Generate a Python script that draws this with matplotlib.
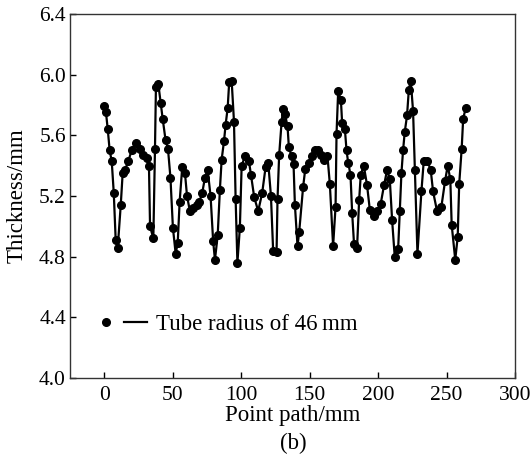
import matplotlib
matplotlib.use("Agg")
import matplotlib.pyplot as plt
from matplotlib.lines import Line2D
from matplotlib.legend_handler import HandlerTuple

plt.rcParams['font.family'] = ['Liberation Serif', 'DejaVu Serif']

# Point path (mm) and measured wall thickness (mm)
path_mm = [0.0, 1.2, 2.5, 3.9, 5.4, 6.9, 8.3, 9.8, 12.0, 13.4,
           15.1, 17.5, 20.0, 22.9, 26.1, 28.5, 30.9, 32.6, 33.4, 35.8,
           37.0, 37.7, 39.4, 41.2, 42.6, 44.7, 46.5, 48.3, 50.1, 52.1,
           53.6, 55.0, 56.9, 58.9, 60.4, 62.5, 65.0, 67.4, 69.3, 71.5,
           73.5, 75.5, 77.6, 79.5, 80.8, 82.8, 84.4, 85.7, 87.4, 88.6,
           90.1, 91.2, 93.0, 94.7, 95.9, 97.2, 99.0, 100.3, 102.7, 105.6,
           107.1, 109.5, 112.4, 115.3, 117.8, 119.7, 121.7, 123.3, 125.8, 126.5,
           127.7, 129.5, 130.6, 131.9, 133.8, 134.8, 136.8, 138.2, 139.2, 141.1,
           142.3, 145.2, 146.8, 149.4, 151.4, 153.8, 156.2, 158.1, 160.5, 163.0,
           164.7, 167.1, 168.9, 169.6, 170.8, 172.8, 173.7, 175.7, 176.9, 178.1,
           179.8, 181.0, 182.4, 184.6, 186.1, 187.3, 189.5, 191.9, 193.9, 196.8,
           199.2, 201.9, 204.3, 206.5, 208.5, 210.2, 212.1, 214.6, 215.8, 217.0,
           218.2, 219.4, 221.1, 222.4, 223.8, 225.5, 226.8, 228.7, 231.6, 233.3,
           236.0, 238.4, 240.1, 243.0, 246.2, 248.9, 250.8, 252.7, 253.7, 256.3,
           258.1, 259.2, 261.0, 262.1, 264.0]
thickness = [5.79, 5.75, 5.64, 5.50, 5.43, 5.22, 4.91, 4.86, 5.14, 5.35,
             5.37, 5.43, 5.50, 5.55, 5.51, 5.47, 5.45, 5.40, 5.00, 4.92,
             5.51, 5.92, 5.94, 5.81, 5.71, 5.57, 5.51, 5.32, 4.99, 4.82,
             4.89, 5.16, 5.39, 5.35, 5.20, 5.10, 5.12, 5.14, 5.16, 5.22,
             5.32, 5.37, 5.20, 4.90, 4.78, 4.94, 5.24, 5.44, 5.56, 5.67,
             5.78, 5.95, 5.96, 5.69, 5.18, 4.76, 4.99, 5.40, 5.46, 5.43,
             5.34, 5.19, 5.10, 5.22, 5.39, 5.42, 5.20, 4.84, 4.83, 5.18,
             5.47, 5.69, 5.77, 5.74, 5.66, 5.52, 5.46, 5.41, 5.14, 4.87,
             4.96, 5.26, 5.38, 5.42, 5.46, 5.50, 5.50, 5.47, 5.44, 5.46,
             5.28, 4.87, 5.13, 5.61, 5.89, 5.83, 5.68, 5.64, 5.50, 5.42,
             5.34, 5.09, 4.88, 4.86, 5.17, 5.34, 5.40, 5.27, 5.11, 5.07,
             5.10, 5.15, 5.27, 5.37, 5.31, 5.04, 4.80, 4.85, 5.10, 5.35,
             5.50, 5.62, 5.73, 5.90, 5.96, 5.76, 5.37, 4.82, 5.23, 5.43,
             5.43, 5.37, 5.23, 5.10, 5.13, 5.30, 5.40, 5.31, 5.01, 4.78,
             4.93, 5.28, 5.51, 5.71, 5.78]

fig = plt.figure(figsize=(5.31, 4.61), dpi=100)
ax = fig.add_axes([0.132, 0.180, 0.838, 0.790])

ax.plot(path_mm, thickness, color='black', linewidth=1.6,
        marker='o', markersize=5.5)

ax.set_xlim(-25, 300)
ax.set_ylim(4.0, 6.4)
ax.set_xticks([0, 50, 100, 150, 200, 250, 300])
ax.set_yticks([4.0, 4.4, 4.8, 5.2, 5.6, 6.0, 6.4])
ax.set_yticklabels(['4.0', '4.4', '4.8', '5.2', '5.6', '6.0', '6.4'])
ax.tick_params(direction='in', length=4, width=1, labelsize=15.5, colors='black')
ax.tick_params(axis='x', pad=6)
ax.tick_params(axis='y', pad=3)
for sp in ax.spines.values():
    sp.set_linewidth(1.0)
    sp.set_color('#333333')

ax.set_xlabel('Point path/mm', fontsize=16.5, labelpad=0)
ax.set_ylabel('Thickness/mm', fontsize=16.5, labelpad=8)

# legend: marker, then a short line
h_mark = Line2D([], [], color='black', marker='o', markersize=5.5, linestyle='none')
h_line = Line2D([], [], color='black', linewidth=1.6)
ax.legend([(h_mark, h_line)], ['Tube radius of 46\u2009mm'],
          handler_map={tuple: HandlerTuple(ndivide=None, pad=0.25)},
          loc='center left', bbox_to_anchor=(0.055, 0.148), frameon=False,
          borderaxespad=0, borderpad=0,
          fontsize=16.5, handlelength=2.3, handletextpad=0.4)

fig.text(0.552, 0.016, '(b)', ha='center', va='bottom', fontsize=16.5)

fig.savefig('out.png', dpi=100)
